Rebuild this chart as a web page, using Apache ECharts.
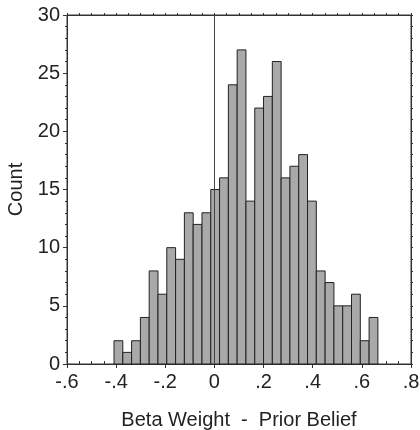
<!DOCTYPE html>
<html>
<head>
<meta charset="utf-8">
<script src="https://cdn.jsdelivr.net/npm/echarts@6/dist/echarts.min.js"></script>
<style>
  html, body { margin: 0; padding: 0; background: #fff; }
  #hist { width: 420px; height: 430px; }
</style>
</head>
<body>
<div id="hist"></div>
<script>
// histogram of beta weights
var binStart = -0.4087;
var binWidth = 0.0358;
var counts = [2, 1, 2, 4, 8, 6, 10, 9, 13, 12, 13, 15, 16, 24, 27, 14,
              22, 23, 26, 16, 17, 18, 14, 8, 7, 5, 5, 6, 2, 4];
var xTicks = [-0.6, 0.8];   // axis range
var yTicks = [0, 30];
var xTitle = 'Beta Weight  -  Prior Belief';
var yTitle = 'Count';

(function () {
  var chart = echarts.init(document.getElementById('hist'));
  var font = 'Liberation Sans, Arial, Helvetica, sans-serif';
  var ink = '#222';

  var bins = counts.map(function (c, i) {
    var lo = binStart + i * binWidth;
    return [lo, lo + binWidth, c];
  });

  function fmtX(v) {
    if (Math.abs(v) < 1e-9) return '0';
    var s = v.toFixed(1);
    return s.replace('0.', '.');
  }

  var baseX = { type: 'value', min: xTicks[0], max: xTicks[1], splitLine: { show: false } };
  var baseY = { type: 'value', min: yTicks[0], max: yTicks[1], splitLine: { show: false } };

  var option = {
    animation: false,
    grid: {
      left: 67, top: 15, width: 344, height: 349,
      outerBoundsMode: 'none',
      containLabel: false,
      show: true, borderColor: '#333', borderWidth: 1, backgroundColor: 'transparent'
    },
    xAxis: [
      Object.assign({}, baseX, {
        position: 'bottom',
        interval: 0.2,
        name: xTitle,
        nameLocation: 'middle',
        nameGap: 46,
        nameTextStyle: { fontFamily: font, fontSize: 20, color: ink },
        axisLine: { onZero: false, lineStyle: { color: '#333', width: 1 } },
        axisTick: { length: 4, lineStyle: { color: '#333' } },
        axisLabel: { margin: 8, fontFamily: font, fontSize: 20, color: ink, formatter: fmtX }
      }),
      Object.assign({}, baseX, {
        position: 'bottom',
        interval: 0.05,
        axisLine: { show: false, onZero: false },
        axisTick: { inside: true, length: 3, lineStyle: { color: '#333' } },
        axisLabel: { show: false }
      }),
      Object.assign({}, baseX, {
        position: 'top',
        interval: 0.05,
        axisLine: { onZero: false, lineStyle: { color: '#333' } },
        axisTick: { length: 2, lineStyle: { color: '#333' } },
        axisLabel: { show: false }
      })
    ],
    yAxis: [
      Object.assign({}, baseY, {
        position: 'left',
        interval: 5,
        name: yTitle,
        nameLocation: 'middle',
        nameGap: 40,
        nameTextStyle: { fontFamily: font, fontSize: 20, color: ink },
        axisLine: { show: true, onZero: false, lineStyle: { color: '#333', width: 1 } },
        axisTick: { show: true, length: 4, lineStyle: { color: '#333' } },
        minorTick: { show: true, splitNumber: 5, length: 2, lineStyle: { color: '#333' } },
        axisLabel: { margin: 7, fontFamily: font, fontSize: 20, color: ink }
      }),
      Object.assign({}, baseY, {
        position: 'right',
        interval: 1,
        axisLine: { show: true, onZero: false, lineStyle: { color: '#333' } },
        axisTick: { show: true, length: 2, lineStyle: { color: '#333' } },
        axisLabel: { show: false }
      })
    ],
    series: [{
      type: 'custom',
      xAxisIndex: 0,
      yAxisIndex: 0,
      data: bins,
      encode: { x: [0, 1], y: 2 },
      renderItem: function (params, api) {
        var p0 = api.coord([api.value(0), api.value(2)]);
        var p1 = api.coord([api.value(1), 0]);
        return {
          type: 'rect',
          shape: { x: p0[0], y: p0[1], width: p1[0] - p0[0], height: p1[1] - p0[1] },
          style: { fill: '#a9a9a9', stroke: '#222', lineWidth: 1 }
        };
      },
      markLine: {
        silent: true,
        symbol: 'none',
        label: { show: false },
        lineStyle: { color: '#444', width: 1, type: 'solid' },
        data: [{ xAxis: 0 }]
      }
    }]
  };

  chart.setOption(option);
})();
</script>
</body>
</html>
